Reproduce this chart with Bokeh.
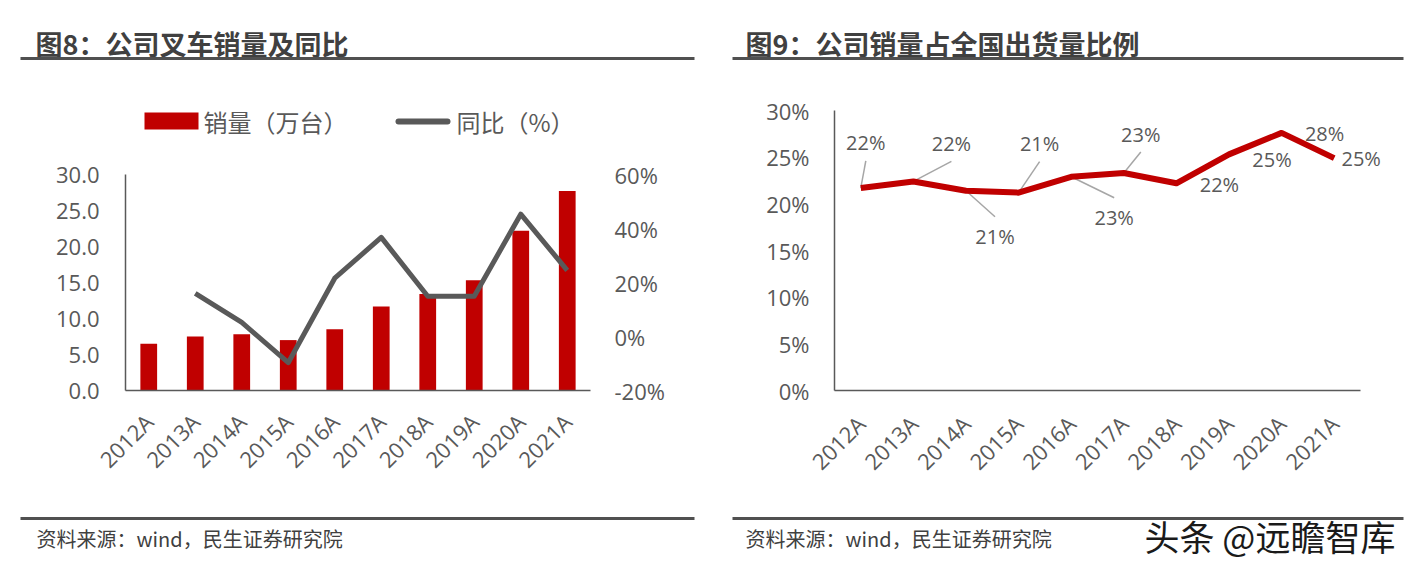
import math
from bokeh.plotting import figure
from bokeh.models import (Range1d, LinearAxis, FixedTicker, PrintfTickFormatter)
from bokeh.layouts import row
from bokeh.embed import file_html
from bokeh.resources import INLINE
from bokeh.core.properties import value

# ---------------- data ----------------
years = ["2012A", "2013A", "2014A", "2015A", "2016A",
         "2017A", "2018A", "2019A", "2020A", "2021A"]
sales = [6.5, 7.5, 7.8, 7.0, 8.5, 11.65, 13.4, 15.3, 22.2, 27.7]          # 万台
yoy = [float("nan"), 16.0, 5.2, -9.7, 21.6, 36.7, 14.9, 14.9, 45.3, 24.5]  # %
share = [21.7, 22.4, 21.4, 21.2, 22.9, 23.3, 22.2, 25.3, 27.6, 24.9]       # %
left_ticks = [0, 5, 10, 15, 20, 25, 30]
right_ticks = [-20, 0, 20, 40, 60]
share_ticks = [0, 5, 10, 15, 20, 25, 30]

title_left = "图8：公司叉车销量及同比"
title_right = "图9：公司销量占全国出货量比例"
legend_bar = "销量（万台）"
legend_line = "同比（%）"
source_text = "资料来源：wind，民生证券研究院"
watermark = "头条 @远瞻智库"

# ---------------- styles ----------------
RED = "#c00000"
GREY = "#595959"
TXT = "#404040"
RULE = "#505050"
NUM_FONT = "Open Sans"
CJK = "Noto Sans CJK SC"

# data-label placement (screen px, relative to the point; +dy = downwards)
label_dx = [5, 38, 29, 21, 43, 17, 43, 43, 43, 27]
label_dy = [-45, -38, 46, -49, 41, -39, 1, 5, 1, 0]
has_leader = [True, True, True, True, True, True, False, False, False, False]

H = 576
AXIS_Y = 390                      # page y of both x axes
N = len(years)
pos = [i + 0.5 for i in range(N)]  # category centres on a numeric axis


def style_axis(ax, size="22px", standoff=25, line=True):
    ax.major_label_text_font = NUM_FONT
    ax.major_label_text_font_size = size
    ax.major_label_text_color = GREY
    ax.major_tick_line_color = None
    ax.minor_tick_line_color = None
    ax.major_tick_out = 0
    ax.major_tick_in = 0
    ax.minor_tick_out = 0
    ax.minor_tick_in = 0
    ax.major_label_standoff = standoff
    if line:
        ax.axis_line_color = GREY
        ax.axis_line_width = 1.5
    else:
        ax.axis_line_color = None


def make_fig(w, xr, yr):
    p = figure(width=w, height=H, x_range=xr, y_range=yr, output_backend="svg",
               toolbar_location=None, min_border=0)
    p.outline_line_color = None
    p.xgrid.visible = False
    p.ygrid.visible = False
    p.background_fill_color = "white"
    p.border_fill_color = "white"
    return p


def cat_axis(p, standoff):
    ax = p.xaxis[0]
    ax.ticker = FixedTicker(ticks=pos)
    ax.major_label_overrides = {x: y for x, y in zip(pos, years)}
    ax.fixed_location = 0
    ax.bounds = (0, N)
    style_axis(ax, size="22px", standoff=standoff)
    ax.major_label_orientation = math.pi / 4


def put_text(p, x, y, text, size, bold=False, color=TXT, font=CJK, align="left"):
    p.text(x=[x], y=[y], text=[text], text_font=value(font), text_font_size=size,
           text_font_style="bold" if bold else "normal", text_color=color,
           text_baseline="middle", text_align=align)


def put_rule(p, x0, x1, y):
    p.segment(x0=[x0], y0=[y], x1=[x1], y1=[y], line_width=3, line_color=RULE)


# ================= LEFT PANEL (page x 0..720) =================
WL = 720
L_LEFT, L_RIGHT, L_TOP30 = 125, 590, 174
L_PXC = (L_RIGHT - L_LEFT) / N
L_PXY = (AXIS_Y - L_TOP30) / 30.0
L_PXP = (AXIS_Y - L_TOP30) / 80.0      # px per % on the right axis (-20..60)


def lx(px):
    return (px - L_LEFT) / L_PXC


def ly(py):
    return (AXIS_Y - py) / L_PXY


def lp(py):
    return -20 + (AXIS_Y - py) / L_PXP


pL = make_fig(WL, Range1d(lx(0), lx(WL)), Range1d(ly(H), ly(0)))
pL.extra_y_ranges = {"pct": Range1d(lp(H), lp(0))}

pL.vbar(x=pos, top=sales, width=0.36, fill_color=RED, line_color=None)
yx = [x for x, v in zip(pos, yoy) if not math.isnan(v)]
yv = [v for v in yoy if not math.isnan(v)]
pL.line(x=yx, y=yv, y_range_name="pct", line_width=5, line_color=GREY, line_join="round")

cat_axis(pL, 27)
lax = pL.yaxis[0]
lax.ticker = FixedTicker(ticks=left_ticks)
lax.formatter = PrintfTickFormatter(format="%.1f")
lax.fixed_location = 0
lax.bounds = (0, 30)
style_axis(lax, standoff=26)
rax = LinearAxis(y_range_name="pct", ticker=FixedTicker(ticks=right_ticks),
                 formatter=PrintfTickFormatter(format="%d%%"), fixed_location=N)
style_axis(rax, standoff=24, line=False)
pL.add_layout(rax, "right")

# legend
pL.quad(left=[lx(144)], right=[lx(198)], top=[ly(112)], bottom=[ly(129)],
        fill_color=RED, line_color=None)
put_text(pL, lx(203), ly(120.5), legend_bar, "24px", color=GREY)
pL.segment(x0=[lx(398)], y0=[ly(121)], x1=[lx(447)], y1=[ly(121)], line_width=6,
           line_color=GREY, line_cap="round")
put_text(pL, lx(456), ly(120.5), legend_line, "24px", color=GREY)

# title / source
put_text(pL, lx(35), ly(43), title_left, "27px", bold=True)
put_rule(pL, lx(20), lx(694), ly(58))
put_rule(pL, lx(20), lx(694), ly(518))
put_text(pL, lx(36), ly(538), source_text, "20px")

# ================= RIGHT PANEL (page x 720..1422) =================
OX = 720
WR = 1422 - OX
R_LEFT, R_RIGHT, R_TOP30 = 834, 1360, 110
R_PXC = (R_RIGHT - R_LEFT) / N
R_PXY = (AXIS_Y - R_TOP30) / 30.0


def rx(px):
    return (px - R_LEFT) / R_PXC


def ry(py):
    return (AXIS_Y - py) / R_PXY


pR = make_fig(WR, Range1d(rx(OX), rx(OX + WR)), Range1d(ry(H), ry(0)))

lx0, ly0, lx1, ly1 = [], [], [], []
for x, v, dx, dy, lead in zip(pos, share, label_dx, label_dy, has_leader):
    if not lead:
        continue
    off = 18 if dy < 0 else -20
    lx0.append(x + dx / R_PXC)
    ly0.append(v - (dy + off) / R_PXY)
    lx1.append(x)
    ly1.append(v)
pR.segment(x0=lx0, y0=ly0, x1=lx1, y1=ly1, line_color="#a6a6a6", line_width=1.5)
pR.line(x=pos, y=share, line_width=6, line_color=RED, line_join="round")

pR.text(x=[x + dx / R_PXC for x, dx in zip(pos, label_dx)],
        y=[v - dy / R_PXY for v, dy in zip(share, label_dy)],
        text=["%d%%" % round(v) for v in share],
        text_align="center", text_baseline="middle",
        text_font=value(NUM_FONT), text_font_size="20px", text_color=GREY)

cat_axis(pR, 29)
say = pR.yaxis[0]
say.ticker = FixedTicker(ticks=share_ticks)
say.formatter = PrintfTickFormatter(format="%d%%")
say.fixed_location = 0
say.bounds = (0, 30)
style_axis(say, standoff=25)

put_text(pR, rx(745), ry(43), title_right, "27px", bold=True)
put_rule(pR, rx(732), rx(1403), ry(58))
put_rule(pR, rx(732), rx(1403), ry(518))
put_text(pR, rx(745), ry(538), source_text, "20px")
put_text(pR, rx(1144), ry(535), watermark, "35px", color="#1a1a1a")

layout = row(pL, pR)
open("out.html", "w").write(file_html(layout, INLINE))
